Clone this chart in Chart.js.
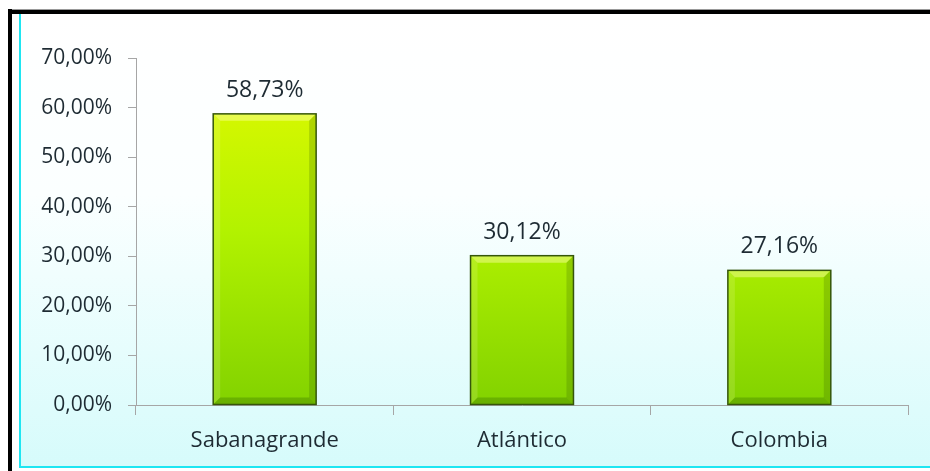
<!DOCTYPE html>
<html>
<head>
<meta charset="utf-8">
<script src="https://cdn.jsdelivr.net/npm/chart.js@4"></script>
<style>
  html, body { margin: 0; padding: 0; background: #fff; }
  #wrap { position: relative; width: 930px; height: 471px; overflow: hidden; }
  #blackTop { position: absolute; left: 8px; top: 9px; width: 930px; height: 4px; background: #000; border-top: 1px solid #999; }
  #blackLeft { position: absolute; left: 8px; top: 9px; width: 4px; height: 470px; background: #000; }
  #panel {
    position: absolute; left: 19px; top: 13px; width: 920px; height: 453px;
    border-left: 2px solid #1ee6f2; border-bottom: 2px solid #1ee6f2;
    background: linear-gradient(to bottom, #ffffff 0%, #fbffff 40%, #e6fdfd 75%, #d6fbfb 100%);
  }
  canvas { position: absolute; left: 0; top: 0; }
</style>
</head>
<body>
<div id="wrap">
  <div id="panel"></div>
  <div id="blackTop"></div>
  <div id="blackLeft"></div>
  <canvas id="myChart" width="930" height="471"></canvas>
</div>
<script>
const categories = ["Sabanagrande", "Atlántico", "Colombia"];
const values = [58.73, 30.12, 27.16];
const yTicks = [0, 10, 20, 30, 40, 50, 60, 70];

const fmt = v => v.toFixed(2).replace(".", ",") + "%";

// bevel edges + value labels on top of the bars
const barExtras = {
  id: "barExtras",
  afterDatasetsDraw(chart) {
    const ctx = chart.ctx;
    const meta = chart.getDatasetMeta(0);
    ctx.save();
    meta.data.forEach((bar, i) => {
      const p = bar.getProps(["x", "y", "base", "width"], true);
      const l = p.x - p.width / 2, r = p.x + p.width / 2, t = p.y, b = p.base;
      const s = 7;
      // top bevel
      ctx.fillStyle = "rgba(255,255,170,0.45)";
      ctx.beginPath(); ctx.moveTo(l, t); ctx.lineTo(r, t); ctx.lineTo(r - s, t + s); ctx.lineTo(l + s, t + s); ctx.closePath(); ctx.fill();
      // left bevel
      ctx.fillStyle = "rgba(255,255,200,0.15)";
      ctx.beginPath(); ctx.moveTo(l, t); ctx.lineTo(l + s, t + s); ctx.lineTo(l + s, b - s); ctx.lineTo(l, b); ctx.closePath(); ctx.fill();
      // right bevel
      ctx.fillStyle = "rgba(40,80,0,0.2)";
      ctx.beginPath(); ctx.moveTo(r, t); ctx.lineTo(r - s, t + s); ctx.lineTo(r - s, b - s); ctx.lineTo(r, b); ctx.closePath(); ctx.fill();
      // bottom bevel
      ctx.fillStyle = "rgba(40,90,0,0.28)";
      ctx.beginPath(); ctx.moveTo(l, b); ctx.lineTo(r, b); ctx.lineTo(r - s, b - s); ctx.lineTo(l + s, b - s); ctx.closePath(); ctx.fill();
      ctx.strokeStyle = "#35560a";
      ctx.lineWidth = 1.5;
      ctx.strokeRect(l, t, p.width, b - t);
      // value label
      ctx.font = "23px 'Open Sans'";
      ctx.fillStyle = "#1e2b33";
      ctx.textAlign = "center";
      ctx.textBaseline = "bottom";
      ctx.fillText(fmt(values[i]), p.x, t - 12);
    });
    ctx.restore();
  }
};

function barFill(context) {
  const area = context.chart.chartArea;
  if (!area) return "#b0f000";
  const el = context.element;
  const top = el && el.y ? el.y : area.top;
  const g = context.chart.ctx.createLinearGradient(0, top, 0, area.bottom);
  g.addColorStop(0, "#e4fa00");
  g.addColorStop(0.5, "#b2f200");
  g.addColorStop(1, "#82d200");
  return g;
}

const data = {
  labels: categories,
  datasets: [{
    data: values,
    backgroundColor: barFill,
    borderWidth: 0,
    barPercentage: 0.4,
    categoryPercentage: 1
  }]
};

const config = {
  type: "bar",
  data: data,
  plugins: [barExtras],
  options: {
    responsive: false,
    animation: false,
    layout: { padding: { left: 0, top: 58, right: 22, bottom: 0 } },
    plugins: { legend: { display: false }, tooltip: { enabled: false } },
    scales: {
      x: {
        grid: { display: true, drawOnChartArea: false, tickLength: 10, color: "#a6a6a6", offset: true },
        border: { color: "#a6a6a6" },
        ticks: { font: { family: "Open Sans", size: 22 }, color: "#1e2b33", padding: 13 },
        afterFit(scale) { scale.height = 66; }
      },
      y: {
        min: 0,
        max: 70,
        afterBuildTicks(scale) { scale.ticks = yTicks.map(v => ({ value: v })); },
        grid: { display: true, drawOnChartArea: false, tickLength: 8, color: "#a6a6a6" },
        border: { color: "#a6a6a6" },
        ticks: { font: { family: "Open Sans", size: 21 }, color: "#1e2b33", padding: 16, callback: v => fmt(v) },
        afterFit(scale) { scale.width = 136; }
      }
    }
  }
};

const myChart = new Chart(document.getElementById("myChart"), config);
</script>
</body>
</html>
